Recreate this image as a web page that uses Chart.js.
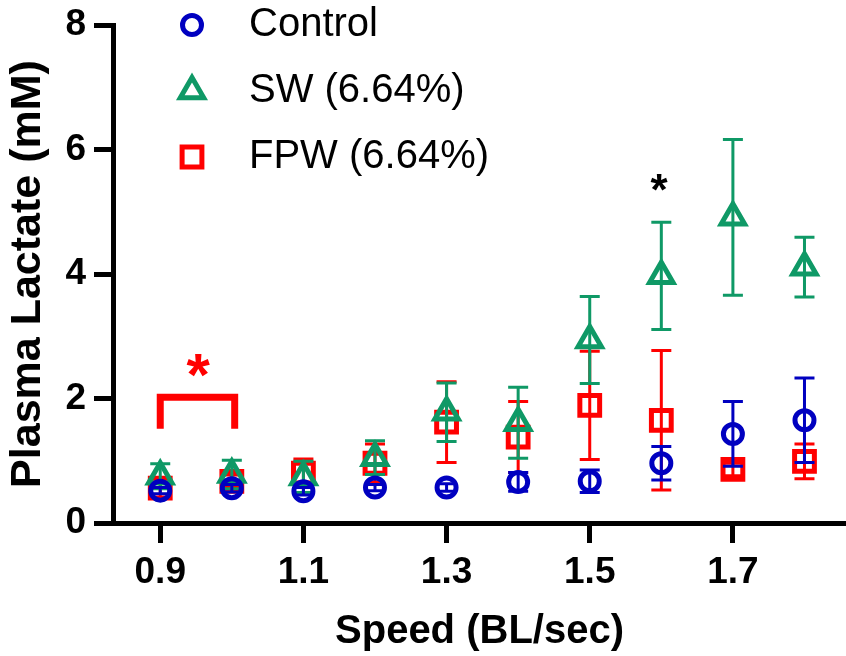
<!DOCTYPE html>
<html>
<head>
<meta charset="utf-8">
<script src="https://cdn.jsdelivr.net/npm/chart.js@4.4.1/dist/chart.umd.min.js"></script>
<style>
  html, body { margin: 0; padding: 0; background: #fff; }
  #wrap { width: 846px; height: 656px; }
</style>
</head>
<body>
<div id="wrap"><canvas id="lactate-chart" width="846" height="656"></canvas></div>
<script>
// swimming speeds (BL/sec)
const speeds = [0.9, 1.0, 1.1, 1.2, 1.3, 1.4, 1.5, 1.6, 1.7, 1.8];

// plasma lactate, mean and SD (mM)
const controlMean = [0.52, 0.56, 0.51, 0.57, 0.57, 0.66, 0.67, 0.96, 1.43, 1.65];
const controlSd   = [0.05, 0.06, 0.06, 0.05, 0.06, 0.15, 0.18, 0.27, 0.52, 0.68];
const swMean  = [0.75, 0.78, 0.74, 1.05, 1.78, 1.61, 2.94, 3.97, 4.91, 4.11];
const swSd    = [0.20, 0.23, 0.25, 0.27, 0.47, 0.57, 0.70, 0.86, 1.25, 0.48];
const fpwMean = [0.56, 0.67, 0.80, 0.96, 1.62, 1.38, 1.89, 1.65, 0.86, 0.99];
const fpwSd   = [0.15, 0.10, 0.23, 0.31, 0.65, 0.57, 0.87, 1.12, 0.10, 0.28];

const xTicks = [0.9, 1.1, 1.3, 1.5, 1.7];
const yTicks = [0, 2, 4, 6, 8];

const FONT = '"Liberation Sans", Arial, Helvetica, sans-serif';
const BLUE = '#0000c0', GREEN = '#0f9966', RED = '#ff0000';

const toPoints = (means) => speeds.map((s, i) => ({ x: s, y: means[i] }));

// error bars (mean +/- SD) drawn right after each dataset
const errorBars = {
  id: 'errorBars',
  afterDatasetDraw(chart, args) {
    const ds = chart.data.datasets[args.index];
    if (!ds.sd) return;
    const ctx = chart.ctx;
    const xs = chart.scales.x, ys = chart.scales.y;
    ctx.save();
    ctx.strokeStyle = ds.borderColor;
    ctx.lineWidth = 3;
    ds.data.forEach((p, i) => {
      const px = xs.getPixelForValue(p.x);
      const top = ys.getPixelForValue(p.y + ds.sd[i]);
      const bot = ys.getPixelForValue(Math.max(p.y - ds.sd[i], 0));
      ctx.beginPath();
      ctx.moveTo(px, top); ctx.lineTo(px, bot);
      ctx.moveTo(px - 10, top); ctx.lineTo(px + 10, top);
      ctx.moveTo(px - 10, bot); ctx.lineTo(px + 10, bot);
      ctx.stroke();
    });
    ctx.restore();
  }
};

// significance marks
const starAt = (ctx, txt, cx, cy) => {
  const m = ctx.measureText(txt);
  ctx.textAlign = 'center';
  ctx.textBaseline = 'alphabetic';
  ctx.fillText(txt, cx, cy + (m.actualBoundingBoxAscent - m.actualBoundingBoxDescent) / 2);
};
const sigMarks = {
  id: 'sigMarks',
  afterDatasetsDraw(chart) {
    const ctx = chart.ctx;
    const xs = chart.scales.x, ys = chart.scales.y;
    ctx.save();
    // bracket between 0.9 and 1.0 (FPW)
    const x0 = xs.getPixelForValue(0.9), x1 = xs.getPixelForValue(1.004);
    const yTop = ys.getPixelForValue(2.02), yFoot = ys.getPixelForValue(1.515);
    ctx.strokeStyle = RED;
    ctx.lineWidth = 7;
    ctx.lineJoin = 'miter';
    ctx.beginPath();
    ctx.moveTo(x0, yFoot); ctx.lineTo(x0, yTop); ctx.lineTo(x1, yTop); ctx.lineTo(x1, yFoot);
    ctx.stroke();
    ctx.fillStyle = RED;
    ctx.font = 'bold 60px ' + FONT;
    starAt(ctx, '*', xs.getPixelForValue(0.953), ys.getPixelForValue(2.53));
    ctx.fillStyle = '#000';
    ctx.font = 'bold 44px ' + FONT;
    starAt(ctx, '*', xs.getPixelForValue(1.597), ys.getPixelForValue(5.47));
    ctx.restore();
  }
};

// legend in the upper left of the plot
const markerLegend = {
  id: 'markerLegend',
  afterDraw(chart) {
    const ctx = chart.ctx, area = chart.chartArea;
    ctx.save();
    chart.data.datasets.forEach((ds, i) => {
      const y = area.top + i * 66;
      ctx.strokeStyle = ds.borderColor;
      ctx.fillStyle = 'rgba(0,0,0,0)';
      ctx.lineWidth = ds.borderWidth;
      Chart.helpers.drawPoint(ctx, {
        pointStyle: ds.pointStyle, radius: ds.pointRadius,
        borderWidth: ds.borderWidth, rotation: 0
      }, area.left + 79, y);
      ctx.fillStyle = '#000';
      ctx.font = '40px ' + FONT;
      ctx.textAlign = 'left';
      ctx.textBaseline = 'middle';
      ctx.fillText(ds.label, area.left + 136, y);
    });
    ctx.restore();
  }
};

const series = (label, means, sd, color, style, radius) => ({
  label: label,
  data: toPoints(means),
  sd: sd,
  showLine: false,
  pointStyle: style,
  pointRadius: radius,
  pointHoverRadius: radius,
  borderWidth: 5,
  borderColor: color,
  backgroundColor: 'rgba(0,0,0,0)'
});

const tickFont = { family: FONT, size: 37, weight: 'bold' };

new Chart(document.getElementById('lactate-chart'), {
  type: 'scatter',
  data: {
    datasets: [
      series('Control', controlMean, controlSd, BLUE, 'circle', 9.5),
      series('SW (6.64%)', swMean, swSd, GREEN, 'triangle', 13.5),
      series('FPW (6.64%)', fpwMean, fpwSd, RED, 'rect', 14)
    ]
  },
  options: {
    responsive: false,
    devicePixelRatio: 1,
    animation: false,
    events: [],
    layout: { autoPadding: false, padding: { top: 25, right: 0, bottom: 0, left: 0 } },
    plugins: { legend: { display: false }, tooltip: { enabled: false } },
    scales: {
      x: {
        type: 'linear',
        min: 0.834,
        max: 1.858,
        afterBuildTicks: (s) => { s.ticks = xTicks.map(v => ({ value: v })); },
        afterFit: (s) => { s.height = 133; s.paddingLeft = 0; s.paddingRight = 0; },
        grid: { display: true, drawOnChartArea: false, drawTicks: true, tickLength: 20, tickWidth: 5, tickColor: '#000' },
        border: { display: true, color: '#000', width: 5 },
        ticks: { color: '#000', font: tickFont, padding: 8, maxRotation: 0, callback: (v) => v.toFixed(1) },
        title: { display: true, text: 'Speed (BL/sec)', color: '#000',
                 font: { family: FONT, size: 40, weight: 'bold' }, padding: { top: 0, bottom: 0 } }
      },
      y: {
        min: 0,
        max: 8,
        afterBuildTicks: (s) => { s.ticks = yTicks.map(v => ({ value: v })); },
        afterFit: (s) => { s.width = 113; s.paddingTop = 0; s.paddingBottom = 0; },
        grid: { display: true, drawOnChartArea: false, drawTicks: true, tickLength: 19, tickWidth: 5, tickColor: '#000' },
        border: { display: true, color: '#000', width: 5 },
        ticks: { color: '#000', font: tickFont, padding: 8 },
        title: { display: true, text: 'Plasma Lactate (mM)', color: '#000',
                 font: { family: FONT, size: 43, weight: 'bold' }, padding: { top: 2, bottom: 0 } }
      }
    }
  },
  plugins: [errorBars, sigMarks, markerLegend]
});
</script>
</body>
</html>
